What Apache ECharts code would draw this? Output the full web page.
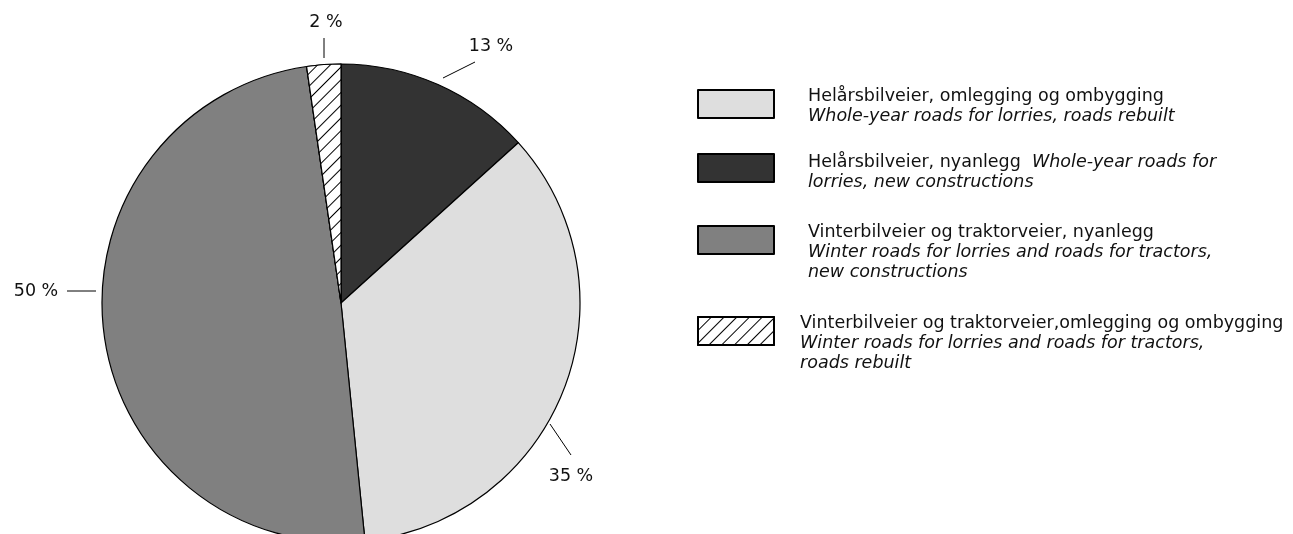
<!DOCTYPE html>
<html>
<head>
<meta charset="utf-8">
<script src="https://cdn.jsdelivr.net/npm/echarts@6/dist/echarts.min.js"></script>
<style>html,body{margin:0;padding:0;background:#fff;}#c{width:1293px;height:534px;}</style>
</head>
<body>
<div id="c"></div>
<script>
// Data (pie order, clockwise from top)
const names = [
  'Helårsbilveier, nyanlegg',
  'Helårsbilveier, omlegging og ombygging',
  'Vinterbilveier og traktorveier, nyanlegg',
  'Vinterbilveier og traktorveier,omlegging og ombygging'
];
const englishNames = [
  'Whole-year roads for lorries, new constructions',
  'Whole-year roads for lorries, roads rebuilt',
  'Winter roads for lorries and roads for tractors, new constructions',
  'Winter roads for lorries and roads for tractors, roads rebuilt'
];
const values = [13.3, 35.1, 49.3, 2.3];
const valueLabels = ['13 %', '35 %', '50 %', '2 %'];
const colors = ['#333333', '#dedede', '#808080', '#ffffff'];
const legendOrder = [1, 0, 2, 3];

const FONT = '"DejaVu Sans", "Open Sans", sans-serif';
const FS = 17.5;
const chart = echarts.init(document.getElementById('c'), null, {renderer: 'canvas'});

const hatch = {
  symbol: 'rect', color: '#000', backgroundColor: '#fff',
  dashArrayX: [1, 0], dashArrayY: [1, 7.5], rotation: -Math.PI / 4,
  symbolSize: 1
};

const data = values.map((v, i) => {
  const d = { name: names[i], value: v, itemStyle: { color: colors[i] } };
  if (i === 3) d.itemStyle.decal = hatch;
  return d;
});

// Label anchor placement (annotation layout only)
const labelPos = [
  { x: 491, y: 46, line: [[443, 78], [475, 62]] },
  { x: 571, y: 476, line: [[550, 424], [571, 455]] },
  { x: 36, y: 291, line: [[96, 291], [67, 291]] },
  { x: 326, y: 22, line: [[324, 58], [324, 38]] }
];

const legendText = {
  1: '{n|Helårsbilveier, omlegging og ombygging}\n{i|Whole-year roads for lorries, roads rebuilt}',
  0: '{n|Helårsbilveier, nyanlegg}{i|  Whole-year roads for}\n{i|lorries, new constructions}',
  2: '{n|Vinterbilveier og traktorveier, nyanlegg}\n{i|Winter roads for lorries and roads for tractors,}\n{i|new constructions}',
  3: '{n|Vinterbilveier og traktorveier,omlegging og ombygging}\n{i|Winter roads for lorries and roads for tractors,}\n{i|roads rebuilt}'
};
const legendTops = { 1: 87, 0: 153, 2: 223, 3: 314 };
const legendPadLeft = { 1: 29, 0: 29, 2: 29, 3: 21 };
const legendPadTop = { 1: 4, 0: 8, 2: 24, 3: 24 };

const rich = {
  n: { fontFamily: FONT, fontSize: FS, color: '#111', lineHeight: 20 },
  i: { fontFamily: FONT, fontSize: FS, fontStyle: 'italic', color: '#111', lineHeight: 20 }
};

const legends = legendOrder.map(idx => ({
  data: [names[idx]],
  left: 697,
  top: legendTops[idx],
  orient: 'vertical',
  padding: 0,
  itemWidth: 76,
  itemHeight: 28,
  icon: 'rect',
  selectedMode: false,
  formatter: () => legendText[idx],
  textStyle: { rich: rich, padding: [legendPadTop[idx], 0, 0, legendPadLeft[idx]] }
}));

chart.setOption({
  animation: false,
  aria: { enabled: true, decal: { show: false } },
  legend: legends,
  series: [{
    type: 'pie',
    center: [341, 303],
    radius: 239,
    startAngle: 90,
    clockwise: true,
    data: data,
    itemStyle: { borderColor: '#000', borderWidth: 1.2 },
    emphasis: { disabled: true },
    label: {
      show: true,
      formatter: p => valueLabels[p.dataIndex],
      fontFamily: FONT, fontSize: FS, color: '#111',
      overflow: 'none', edgeDistance: 0, bleedMargin: 0
    },
    labelLine: { show: true, lineStyle: { color: '#000', width: 1 } },
    labelLayout: p => {
      const L = labelPos[p.dataIndex];
      return {
        x: L.x, y: L.y, align: 'center', verticalAlign: 'middle',
        width: 60, overflow: 'none',
        labelLinePoints: [L.line[0], L.line[1], L.line[1]]
      };
    }
  }]
});
</script>
</body>
</html>
